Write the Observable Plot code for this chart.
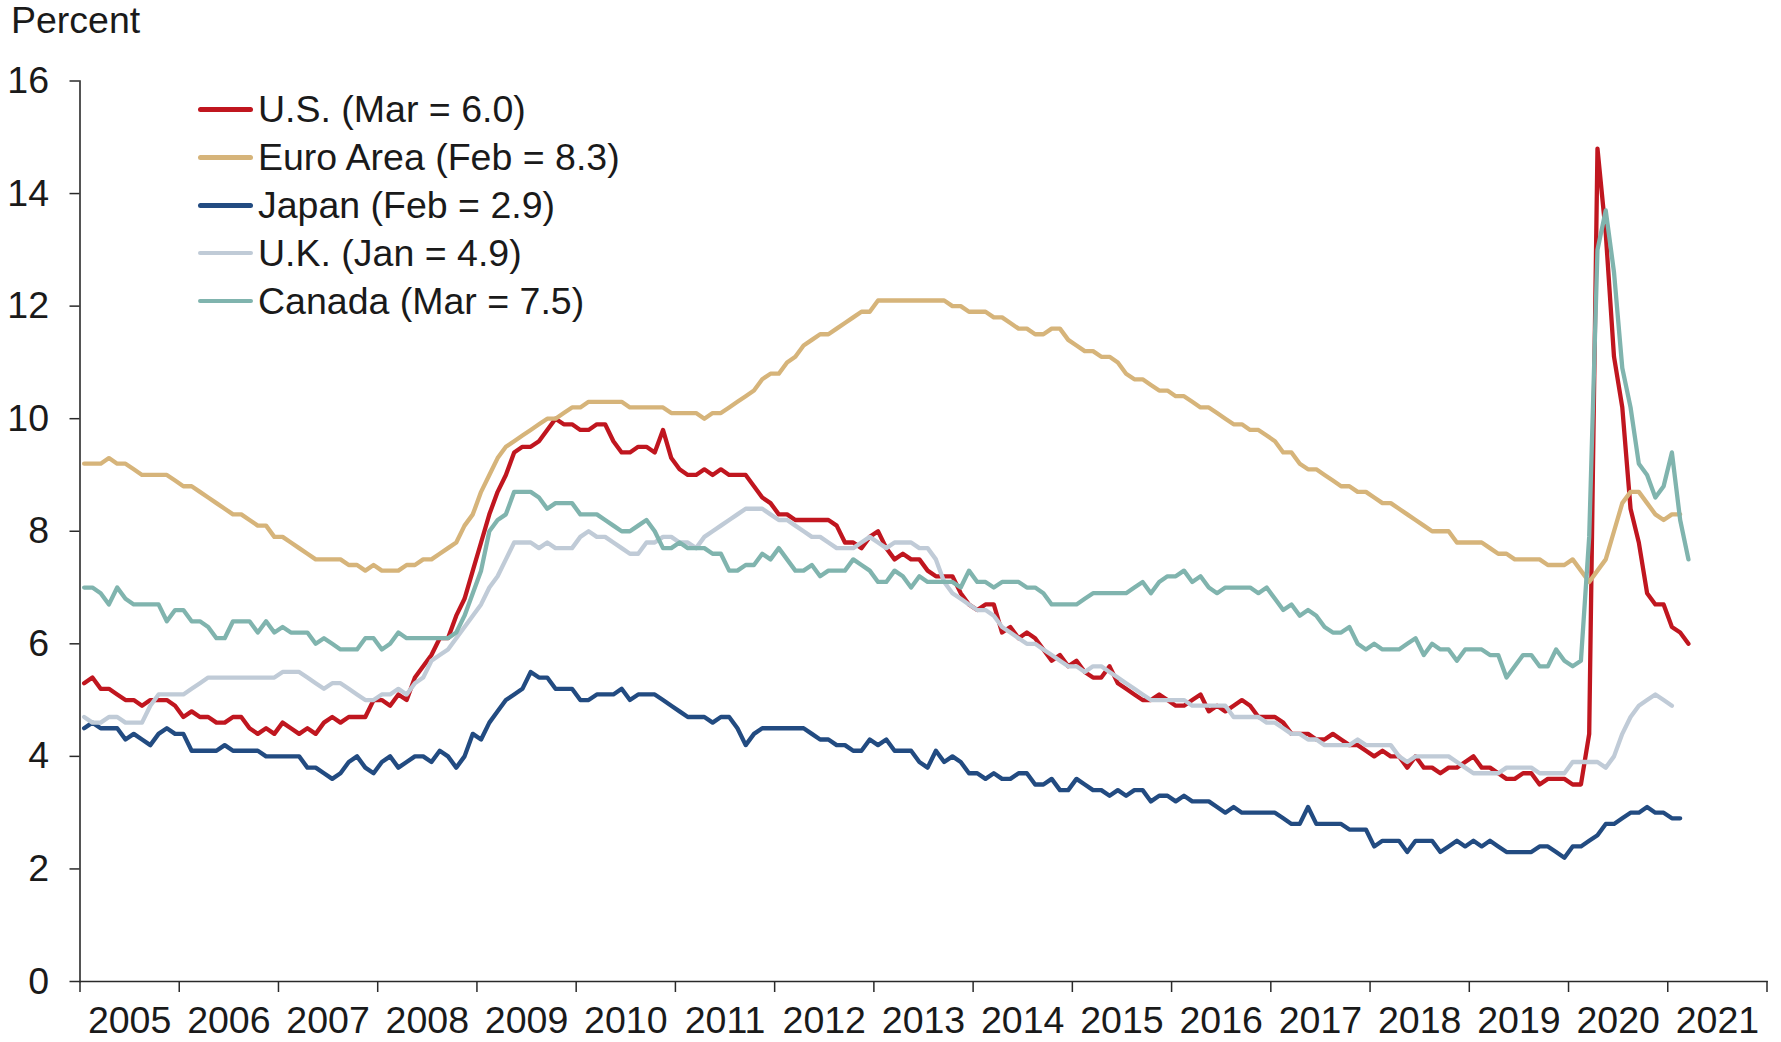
<!DOCTYPE html>
<html><head><meta charset="utf-8">
<script src="https://cdn.jsdelivr.net/npm/d3@7"></script>
<script src="https://cdn.jsdelivr.net/npm/@observablehq/plot@0.6"></script>
<style>
html,body{margin:0;padding:0;background:#fff;}
#wrap{position:relative;width:1781px;height:1042px;font-family:"Liberation Sans",Arial,sans-serif;color:#1a1a1a;overflow:hidden;}
#wrap svg{position:absolute;left:0;top:0;}
.unit{position:absolute;left:11px;top:2px;font-size:37.5px;line-height:37.5px;white-space:nowrap;}
.lg-line{position:absolute;left:198px;width:55px;height:4.5px;border-radius:2.5px;}
.lg-text{position:absolute;left:258px;font-size:37.5px;line-height:37.5px;white-space:nowrap;}
</style></head>
<body><div id="wrap"></div>
<script>
// ---- data (monthly, Jan 2005 onward), percent ----
const startYear = 2005;
const yearLabels = [2005,2006,2007,2008,2009,2010,2011,2012,2013,2014,2015,2016,2017,2018,2019,2020,2021];
const yTicks = [0,2,4,6,8,10,12,14,16];
const seriesNames = ["U.S. (Mar = 6.0)","Euro Area (Feb = 8.3)","Japan (Feb = 2.9)","U.K. (Jan = 4.9)","Canada (Mar = 7.5)"];
const seriesColors = ["#C0161F","#D6B47A","#224B81","#C0CBD7","#80B4AE"];

const us = [
5.3,5.4,5.2,5.2,5.1,5.0,5.0,4.9,5.0,5.0,5.0,4.9,
4.7,4.8,4.7,4.7,4.6,4.6,4.7,4.7,4.5,4.4,4.5,4.4,
4.6,4.5,4.4,4.5,4.4,4.6,4.7,4.6,4.7,4.7,4.7,5.0,
5.0,4.9,5.1,5.0,5.4,5.6,5.8,6.1,6.1,6.5,6.8,7.3,
7.8,8.3,8.7,9.0,9.4,9.5,9.5,9.6,9.8,10.0,9.9,9.9,
9.8,9.8,9.9,9.9,9.6,9.4,9.4,9.5,9.5,9.4,9.8,9.3,
9.1,9.0,9.0,9.1,9.0,9.1,9.0,9.0,9.0,8.8,8.6,8.5,
8.3,8.3,8.2,8.2,8.2,8.2,8.2,8.1,7.8,7.8,7.7,7.9,
8.0,7.7,7.5,7.6,7.5,7.5,7.3,7.2,7.2,7.2,6.9,6.7,
6.6,6.7,6.7,6.2,6.3,6.1,6.2,6.1,5.9,5.7,5.8,5.6,
5.7,5.5,5.4,5.4,5.6,5.3,5.2,5.1,5.0,5.0,5.1,5.0,
4.9,4.9,5.0,5.1,4.8,4.9,4.8,4.9,5.0,4.9,4.7,4.7,
4.7,4.6,4.4,4.4,4.4,4.3,4.3,4.4,4.3,4.2,4.2,4.1,
4.0,4.1,4.0,4.0,3.8,4.0,3.8,3.8,3.7,3.8,3.8,3.9,
4.0,3.8,3.8,3.7,3.6,3.6,3.7,3.7,3.5,3.6,3.6,3.6,
3.5,3.5,4.4,14.8,13.3,11.1,10.2,8.4,7.8,6.9,6.7,6.7,
6.3,6.2,6.0];

const euroArea = [
9.2,9.2,9.2,9.3,9.2,9.2,9.1,9.0,9.0,9.0,9.0,8.9,
8.8,8.8,8.7,8.6,8.5,8.4,8.3,8.3,8.2,8.1,8.1,7.9,
7.9,7.8,7.7,7.6,7.5,7.5,7.5,7.5,7.4,7.4,7.3,7.4,
7.3,7.3,7.3,7.4,7.4,7.5,7.5,7.6,7.7,7.8,8.1,8.3,
8.7,9.0,9.3,9.5,9.6,9.7,9.8,9.9,10.0,10.0,10.1,10.2,
10.2,10.3,10.3,10.3,10.3,10.3,10.2,10.2,10.2,10.2,10.2,10.1,
10.1,10.1,10.1,10.0,10.1,10.1,10.2,10.3,10.4,10.5,10.7,10.8,
10.8,11.0,11.1,11.3,11.4,11.5,11.5,11.6,11.7,11.8,11.9,11.9,
12.1,12.1,12.1,12.1,12.1,12.1,12.1,12.1,12.1,12.0,12.0,11.9,
11.9,11.9,11.8,11.8,11.7,11.6,11.6,11.5,11.5,11.6,11.6,11.4,
11.3,11.2,11.2,11.1,11.1,11.0,10.8,10.7,10.7,10.6,10.5,10.5,
10.4,10.4,10.3,10.2,10.2,10.1,10.0,9.9,9.9,9.8,9.8,9.7,
9.6,9.4,9.4,9.2,9.1,9.1,9.0,8.9,8.8,8.8,8.7,8.7,
8.6,8.5,8.5,8.4,8.3,8.2,8.1,8.0,8.0,8.0,7.8,7.8,
7.8,7.8,7.7,7.6,7.6,7.5,7.5,7.5,7.5,7.4,7.4,7.4,
7.5,7.3,7.1,7.3,7.5,8.0,8.5,8.7,8.7,8.5,8.3,8.2,
8.3,8.3];

const japan = [
4.5,4.6,4.5,4.5,4.5,4.3,4.4,4.3,4.2,4.4,4.5,4.4,
4.4,4.1,4.1,4.1,4.1,4.2,4.1,4.1,4.1,4.1,4.0,4.0,
4.0,4.0,4.0,3.8,3.8,3.7,3.6,3.7,3.9,4.0,3.8,3.7,
3.9,4.0,3.8,3.9,4.0,4.0,3.9,4.1,4.0,3.8,4.0,4.4,
4.3,4.6,4.8,5.0,5.1,5.2,5.5,5.4,5.4,5.2,5.2,5.2,
5.0,5.0,5.1,5.1,5.1,5.2,5.0,5.1,5.1,5.1,5.0,4.9,
4.8,4.7,4.7,4.7,4.6,4.7,4.7,4.5,4.2,4.4,4.5,4.5,
4.5,4.5,4.5,4.5,4.4,4.3,4.3,4.2,4.2,4.1,4.1,4.3,
4.2,4.3,4.1,4.1,4.1,3.9,3.8,4.1,3.9,4.0,3.9,3.7,
3.7,3.6,3.7,3.6,3.6,3.7,3.7,3.5,3.5,3.6,3.4,3.4,
3.6,3.5,3.4,3.4,3.3,3.4,3.3,3.4,3.4,3.2,3.3,3.3,
3.2,3.3,3.2,3.2,3.2,3.1,3.0,3.1,3.0,3.0,3.0,3.0,
3.0,2.9,2.8,2.8,3.1,2.8,2.8,2.8,2.8,2.7,2.7,2.7,
2.4,2.5,2.5,2.5,2.3,2.5,2.5,2.5,2.3,2.4,2.5,2.4,
2.5,2.4,2.5,2.4,2.3,2.3,2.3,2.3,2.4,2.4,2.3,2.2,
2.4,2.4,2.5,2.6,2.8,2.8,2.9,3.0,3.0,3.1,3.0,3.0,
2.9,2.9];

const uk = [
4.7,4.6,4.6,4.7,4.7,4.6,4.6,4.6,4.9,5.1,5.1,5.1,
5.1,5.2,5.3,5.4,5.4,5.4,5.4,5.4,5.4,5.4,5.4,5.4,
5.5,5.5,5.5,5.4,5.3,5.2,5.3,5.3,5.2,5.1,5.0,5.0,
5.1,5.1,5.2,5.1,5.3,5.4,5.7,5.8,5.9,6.1,6.3,6.5,
6.7,7.0,7.2,7.5,7.8,7.8,7.8,7.7,7.8,7.7,7.7,7.7,
7.9,8.0,7.9,7.9,7.8,7.7,7.6,7.6,7.8,7.8,7.9,7.9,
7.8,7.8,7.7,7.9,8.0,8.1,8.2,8.3,8.4,8.4,8.4,8.3,
8.2,8.2,8.1,8.0,7.9,7.9,7.8,7.7,7.7,7.7,7.8,7.9,
7.8,7.7,7.8,7.8,7.8,7.7,7.7,7.5,7.1,6.9,6.8,6.7,
6.6,6.6,6.5,6.3,6.2,6.1,6.0,6.0,5.9,5.8,5.7,5.6,
5.6,5.5,5.6,5.6,5.5,5.4,5.3,5.2,5.1,5.0,5.0,5.0,
5.0,5.0,4.9,4.9,4.9,4.9,4.9,4.7,4.7,4.7,4.7,4.6,
4.6,4.5,4.4,4.4,4.3,4.3,4.2,4.2,4.2,4.2,4.3,4.2,
4.2,4.2,4.2,4.0,3.9,4.0,4.0,4.0,4.0,4.0,3.9,3.8,
3.7,3.7,3.7,3.7,3.8,3.8,3.8,3.8,3.7,3.7,3.7,3.7,
3.9,3.9,3.9,3.9,3.8,4.0,4.4,4.7,4.9,5.0,5.1,5.0,
4.9];

const canada = [
7.0,7.0,6.9,6.7,7.0,6.8,6.7,6.7,6.7,6.7,6.4,6.6,
6.6,6.4,6.4,6.3,6.1,6.1,6.4,6.4,6.4,6.2,6.4,6.2,
6.3,6.2,6.2,6.2,6.0,6.1,6.0,5.9,5.9,5.9,6.1,6.1,
5.9,6.0,6.2,6.1,6.1,6.1,6.1,6.1,6.1,6.2,6.5,6.9,
7.3,8.0,8.2,8.3,8.7,8.7,8.7,8.6,8.4,8.5,8.5,8.5,
8.3,8.3,8.3,8.2,8.1,8.0,8.0,8.1,8.2,8.0,7.7,7.7,
7.8,7.7,7.7,7.7,7.6,7.6,7.3,7.3,7.4,7.4,7.6,7.5,
7.7,7.5,7.3,7.3,7.4,7.2,7.3,7.3,7.3,7.5,7.4,7.3,
7.1,7.1,7.3,7.2,7.0,7.2,7.1,7.1,7.1,7.1,7.0,7.3,
7.1,7.1,7.0,7.1,7.1,7.1,7.0,7.0,6.9,6.7,6.7,6.7,
6.7,6.8,6.9,6.9,6.9,6.9,6.9,7.0,7.1,6.9,7.1,7.2,
7.2,7.3,7.1,7.2,7.0,6.9,7.0,7.0,7.0,7.0,6.9,7.0,
6.8,6.6,6.7,6.5,6.6,6.5,6.3,6.2,6.2,6.3,6.0,5.9,
6.0,5.9,5.9,5.9,6.0,6.1,5.8,6.0,5.9,5.9,5.7,5.9,
5.9,5.9,5.8,5.8,5.4,5.6,5.8,5.8,5.6,5.6,5.9,5.7,
5.6,5.7,7.9,13.0,13.7,12.6,10.9,10.2,9.2,9.0,8.6,8.8,
9.4,8.2,7.5];

// ---- build tables ----
const seriesValues = [us, euroArea, japan, uk, canada];
const monthsTotal = yearLabels.length * 12;          // axis spans whole years
const rows = (vals) => vals.map((v, i) => ({month: i + 0.5, value: v})); // month centred in its slot
const yearEdges = d3.range(0, monthsTotal + 1, 12);
const yearMids = yearLabels.map((y, k) => k * 12 + 6);

const axisColor = "#2a2a2a";
const chart = Plot.plot({
  width: 1781,
  height: 1042,
  marginLeft: 79.5,
  marginRight: 14.5,
  marginTop: 80.5,
  marginBottom: 61,
  style: {fontFamily: '"Liberation Sans", Arial, sans-serif', fontSize: "37.5px", color: "#1a1a1a", background: "transparent", overflow: "visible"},
  x: {domain: [0, monthsTotal], axis: null},
  y: {domain: [0, 16], axis: null},
  marks: [
    Plot.axisY({ticks: yTicks, tickSize: 10, tickPadding: 21, label: null, stroke: axisColor, strokeWidth: 1.5, tickFormat: d => String(d)}),
    Plot.axisX({ticks: yearEdges, tickSize: 11, label: null, stroke: axisColor, strokeWidth: 1.5, tickFormat: () => ""}),
    Plot.axisX({ticks: yearMids, tickSize: 0, tickPadding: 25, label: null, tickFormat: d => String(yearLabels[(d - 6) / 12])}),
    Plot.frame({anchor: "left", stroke: axisColor, strokeWidth: 1.6}),
    Plot.frame({anchor: "bottom", stroke: axisColor, strokeWidth: 1.6}),
    ...seriesValues.map((vals, k) => Plot.line(rows(vals), {
      x: "month", y: "value", stroke: seriesColors[k], strokeWidth: 4.3,
      strokeLinejoin: "round", strokeLinecap: "round"
    }))
  ]
});

const wrap = document.getElementById("wrap");
wrap.appendChild(chart);

const unit = document.createElement("div");
unit.className = "unit";
unit.textContent = "Percent";
wrap.appendChild(unit);

// legend
seriesNames.forEach((name, k) => {
  const cy = 109.5 + 47.9 * k;
  const ln = document.createElement("div");
  ln.className = "lg-line";
  ln.style.top = (cy - 2.25) + "px";
  ln.style.background = seriesColors[k];
  wrap.appendChild(ln);
  const tx = document.createElement("div");
  tx.className = "lg-text";
  tx.style.top = (cy - 18.3) + "px";
  tx.textContent = name;
  wrap.appendChild(tx);
});
</script>
</body></html>
